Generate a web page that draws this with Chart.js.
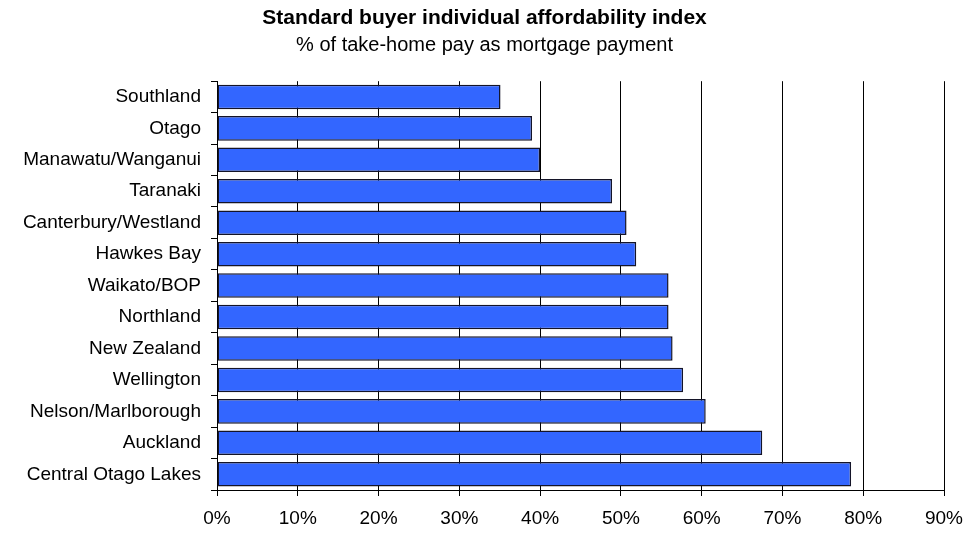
<!DOCTYPE html>
<html>
<head>
<meta charset="utf-8">
<title>Standard buyer individual affordability index</title>
<script src="https://cdn.jsdelivr.net/npm/chart.js@4/dist/chart.umd.min.js"></script>
<style>
    html, body { margin: 0; padding: 0; background: #fff; }
    #wrap { width: 969px; height: 533px; }
</style>
</head>
<body>
<div id="wrap"><canvas id="affordChart" width="969" height="533"></canvas></div>
<script>
// ─── Data ──────────────────────────────────────────────
const regions = [
    'Southland', 'Otago', 'Manawatu/Wanganui', 'Taranaki',
    'Canterbury/Westland', 'Hawkes Bay', 'Waikato/BOP', 'Northland',
    'New Zealand', 'Wellington', 'Nelson/Marlborough', 'Auckland',
    'Central Otago Lakes'
];
const pctOfPay = [35.1, 39.0, 40.0, 48.9, 50.7, 51.9, 55.9, 55.9, 56.4, 57.7, 60.5, 67.5, 78.5];
const xTicks = [0, 10, 20, 30, 40, 50, 60, 70, 80, 90];

const FONT = "'Liberation Sans', Arial, sans-serif";

// title + subtitle centred on the whole canvas, not on the padded layout
const centreTitles = {
    id: 'centreTitles',
    afterLayout(chart) {
        chart.boxes.forEach(box => {
            if (box.position === 'top' && !box.axis) {
                box.left = 0;
                box.right = chart.width;
                box.width = chart.width;
            }
        });
    }
};

// ─── Chart ─────────────────────────────────────────────
new Chart(document.getElementById('affordChart'), {
    type: 'bar',
    data: {
        labels: regions,
        datasets: [{
            data: pctOfPay,
            backgroundColor: '#3366ff',
            borderColor: '#141428',
            borderWidth: 1.5,
            borderSkipped: false,
            barPercentage: 0.78,
            categoryPercentage: 1.0
        }]
    },
    options: {
        indexAxis: 'y',
        responsive: false,
        animation: false,
        layout: { padding: { left: 0, right: 25, top: 0, bottom: 0 } },
        plugins: {
            legend: { display: false },
            tooltip: { enabled: false },
            title: {
                display: true,
                text: 'Standard buyer individual affordability index',
                color: '#000',
                font: { family: FONT, size: 21, weight: 'bold' },
                padding: { top: 6, bottom: 2 }
            },
            subtitle: {
                display: true,
                text: '% of take-home pay as mortgage payment',
                color: '#000',
                font: { family: FONT, size: 20 },
                padding: { top: 0, bottom: 24 }
            }
        },
        scales: {
            x: {
                min: xTicks[0],
                max: xTicks[xTicks.length - 1],
                afterBuildTicks: axis => { axis.ticks = xTicks.map(v => ({ value: v })); },
                afterFit: axis => {
                    axis.height = 43;
                    axis.paddingLeft = 0;
                    axis.paddingRight = 0;
                },
                border: { color: '#000', width: 1 },
                grid: { color: '#000', lineWidth: 1, tickLength: 6, drawTicks: true },
                ticks: {
                    color: '#000',
                    padding: 11,
                    font: { family: FONT, size: 19 },
                    callback: v => v + '%'
                }
            },
            y: {
                afterFit: axis => { axis.width = 217; },
                border: { color: '#000', width: 1 },
                grid: { drawOnChartArea: false, color: '#000', tickLength: 6, offset: true },
                ticks: {
                    color: '#000',
                    padding: 10,
                    font: { family: FONT, size: 19 }
                }
            }
        }
    },
    plugins: [centreTitles]
});
</script>
</body>
</html>
